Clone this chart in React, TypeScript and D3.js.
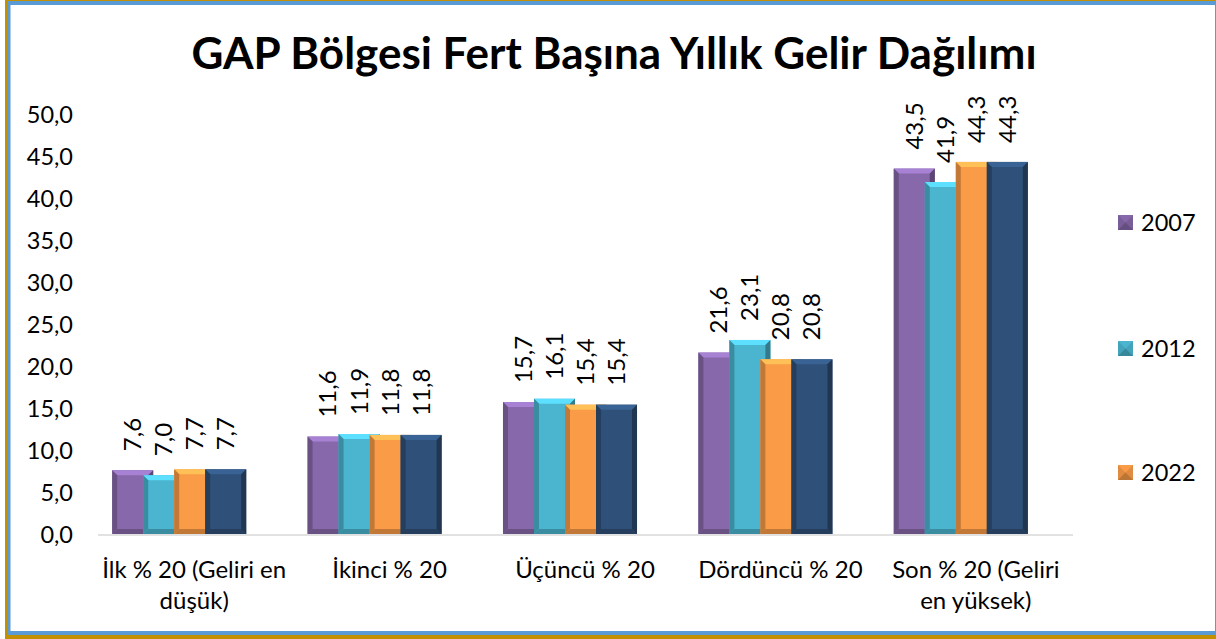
import { useEffect, useRef } from 'react';
import * as d3 from 'd3';

const W = 1216;
const H = 639;
const FONT = 'Lato, "Open Sans", sans-serif';

const categories = ['İlk % 20 (Geliri en düşük)', 'İkinci % 20', 'Üçüncü % 20', 'Dördüncü % 20', 'Son % 20 (Geliri en yüksek)'];
const categoryLines = [
  ['İlk % 20 (Geliri en', 'düşük)'],
  ['İkinci % 20'],
  ['Üçüncü % 20'],
  ['Dördüncü % 20'],
  ['Son % 20 (Geliri', 'en yüksek)'],
];
const seriesNames = ['2007', '2012', '2022', 's4'];
const legendNames = ['2007', '2012', '2022'];
const seriesColors = ['#8768aa', '#4bb5cf', '#f99b47', '#2f5078'];
const values2007 = [7.6, 11.6, 15.7, 21.6, 43.5];
const values2012 = [7.0, 11.9, 16.1, 23.1, 41.9];
const values2022 = [7.7, 11.8, 15.4, 20.8, 44.3];
const valuesS4 = [7.7, 11.8, 15.4, 20.8, 44.3];
const seriesValues = [values2007, values2012, values2022, valuesS4];
const yTicks = [0, 5, 10, 15, 20, 25, 30, 35, 40, 45, 50];

const fmt = (v: number) => v.toFixed(1).replace('.', ',');

export default function App() {
  const ref = useRef<SVGSVGElement>(null);

  useEffect(() => {
    const svg = d3.select(ref.current);
    svg.selectAll('*').remove();

    // frame
    svg.append('rect').attr('x', 5).attr('y', -3).attr('width', 1220).attr('height', 642).attr('fill', '#c39100');
    svg.append('rect').attr('x', 7.5).attr('y', 1).attr('width', 1209).attr('height', 634).attr('fill', '#5b9bd5');
    svg.append('rect').attr('x', 10.5).attr('y', 5).attr('width', 1204.5).attr('height', 626).attr('fill', '#ffffff');

    svg
      .append('text')
      .attr('x', 614)
      .attr('y', 69)
      .attr('text-anchor', 'middle')
      .attr('font-family', FONT)
      .attr('font-weight', 'bold')
      .attr('font-size', 44)
      .attr('fill', '#000')
      .text('GAP Bölgesi Fert Başına Yıllık Gelir Dağılımı');

    const y = d3.scaleLinear().domain([0, 50]).range([534, 114]);
    const x0 = d3
      .scaleBand()
      .domain(categories)
      .range([81.5, 1058.5])
      .paddingInner(0.314)
      .paddingOuter(0.157);
    const x1 = d3
      .scaleBand()
      .domain(seriesNames)
      .range([0, x0.bandwidth() - 10]);
    const barW = x1.step() + 10;

    // y tick labels
    svg
      .append('g')
      .selectAll('text')
      .data(yTicks)
      .join('text')
      .attr('x', 73)
      .attr('y', (d) => y(d) + 9)
      .attr('text-anchor', 'end')
      .attr('font-family', FONT)
      .attr('font-size', 23.5)
      .attr('fill', '#000')
      .text((d) => fmt(d));

    // floor line
    svg
      .append('line')
      .attr('x1', 98)
      .attr('x2', 1073)
      .attr('y1', y(0) + 1)
      .attr('y2', y(0) + 1)
      .attr('stroke', '#d9d9d9')
      .attr('stroke-width', 1.5);

    const b = 5;
    const bars = svg.append('g');
    seriesNames.forEach((s, si) => {
      const base = d3.color(seriesColors[si])!;
      const light = base.brighter(0.6).formatHex();
      const dark = base.darker(0.7).formatHex();
      const darker = base.darker(1.1).formatHex();
      categories.forEach((c, ci) => {
        const v = seriesValues[si][ci];
        const bx = x0(c)! + x1(s)!;
        const by = y(v);
        const bh = y(0) - by;
        const g = bars.append('g');
        g.append('rect').attr('x', bx).attr('y', by).attr('width', barW).attr('height', bh).attr('fill', base.formatHex());
        g.append('polygon')
          .attr('points', `${bx},${by} ${bx + barW},${by} ${bx + barW - b},${by + b} ${bx + b},${by + b}`)
          .attr('fill', light);
        g.append('polygon')
          .attr('points', `${bx},${by} ${bx + b},${by + b} ${bx + b},${by + bh - b} ${bx},${by + bh}`)
          .attr('fill', dark);
        g.append('polygon')
          .attr('points', `${bx + barW},${by} ${bx + barW},${by + bh} ${bx + barW - b},${by + bh - b} ${bx + barW - b},${by + b}`)
          .attr('fill', darker);
        g.append('polygon')
          .attr('points', `${bx},${by + bh} ${bx + barW},${by + bh} ${bx + barW - b},${by + bh - b} ${bx + b},${by + bh - b}`)
          .attr('fill', dark);
        g.append('text')
          .attr('transform', `translate(${bx + barW / 2},${by - 19}) rotate(-90)`)
          .attr('dy', '0.35em')
          .attr('text-anchor', 'start')
          .attr('font-family', FONT)
          .attr('font-size', 24)
          .attr('fill', '#000')
          .text(fmt(v));
      });
    });

    // category labels
    const cat = svg.append('g');
    categories.forEach((c, ci) => {
      const cx = x0(c)! + x0.bandwidth() / 2 + 15;
      categoryLines[ci].forEach((line, li) => {
        cat
          .append('text')
          .attr('x', cx)
          .attr('y', 578 + li * 31)
          .attr('text-anchor', 'middle')
          .attr('font-family', FONT)
          .attr('font-size', 24)
          .attr('fill', '#000')
          .text(line);
      });
    });

    // legend
    const legendY = [222, 348, 472];
    legendNames.forEach((n, i) => {
      const base = d3.color(seriesColors[i])!;
      const lg = svg.append('g').attr('transform', `translate(1118,${legendY[i] - 7})`);
      lg.append('rect').attr('width', 15).attr('height', 15).attr('fill', base.darker(0.3).formatHex());
      lg.append('polygon').attr('points', '0,0 15,0 7.5,7.5').attr('fill', base.formatHex());
      lg.append('polygon').attr('points', '0,15 15,15 7.5,7.5').attr('fill', base.darker(0.8).formatHex());
      lg.append('text')
        .attr('x', 23)
        .attr('y', 16)
        .attr('font-family', FONT)
        .attr('font-size', 23.5)
        .attr('fill', '#000')
        .text(n);
    });
  }, []);

  return (
    <svg
      ref={ref}
      width={W}
      height={H}
      style={{ position: 'fixed', left: 0, top: 0, display: 'block' }}
    />
  );
}
